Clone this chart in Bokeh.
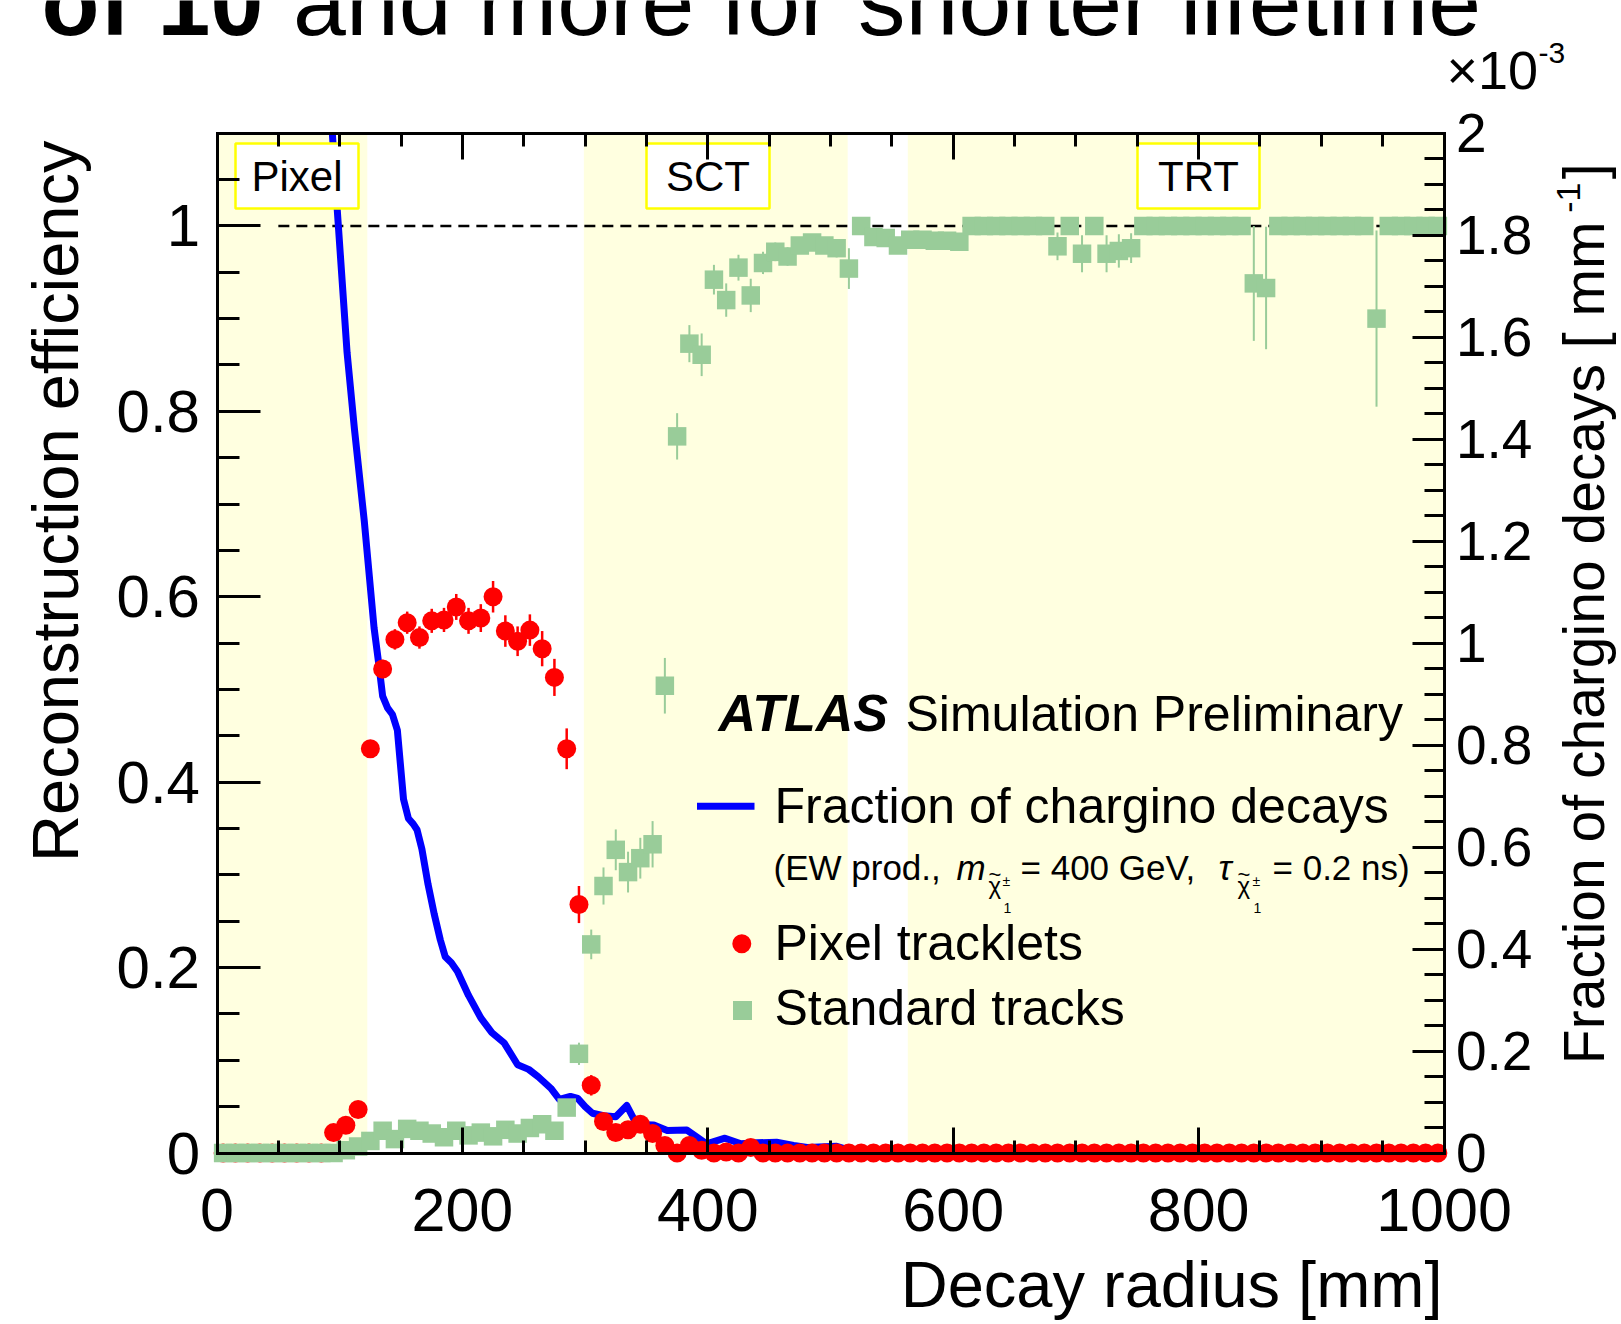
import math
from bokeh.plotting import figure
from bokeh.models import Range1d, LinearAxis, FixedTicker, Label
from bokeh.embed import file_html
from bokeh.resources import INLINE

# ---------------- data ----------------
radius_bins = list(range(5, 1000, 10))  # bin centres [mm]

pixel_eff = [
    0, 0, 0, 0, 0, 0, 0, 0, 0,
    0.022, 0.030, 0.047, 0.436, 0.522, 0.554, 0.572, 0.556, 0.574, 0.575,
    0.589, 0.574, 0.577, 0.600, 0.563, 0.552, 0.564, 0.544, 0.513, 0.436,
    0.268, 0.073, 0.034, 0.022, 0.025, 0.031, 0.021, 0.008, 0.0, 0.008,
    0.003, 0.0, 0.001, 0.0, 0.006,
    0, 0, 0, 0, 0, 0, 0, 0, 0, 0, 0, 0, 0, 0, 0, 0, 0, 0, 0, 0, 0, 0, 0, 0, 0, 0, 0, 0,
    0, 0, 0, 0, 0, 0, 0, 0, 0, 0, 0, 0, 0, 0, 0, 0, 0, 0, 0, 0, 0, 0, 0, 0, 0, 0, 0, 0,
]
pixel_err = [
    0, 0, 0, 0, 0, 0, 0, 0, 0,
    0.004, 0.005, 0.006, 0.008, 0.010, 0.011, 0.012, 0.012, 0.013, 0.013,
    0.014, 0.014, 0.015, 0.017, 0.017, 0.016, 0.017, 0.019, 0.020, 0.022,
    0.020, 0.011, 0.007, 0.006, 0.006, 0.006, 0.005, 0.004, 0.002, 0.003,
    0.002, 0.001, 0.001, 0.001, 0.003,
    0, 0, 0, 0, 0, 0, 0, 0, 0, 0, 0, 0, 0, 0, 0, 0, 0, 0, 0, 0, 0, 0, 0, 0, 0, 0, 0, 0,
    0, 0, 0, 0, 0, 0, 0, 0, 0, 0, 0, 0, 0, 0, 0, 0, 0, 0, 0, 0, 0, 0, 0, 0, 0, 0, 0, 0,
]

std_eff = [
    0, 0, 0, 0, 0, 0, 0, 0, 0, 0,
    0.003, 0.007, 0.013, 0.024, 0.015, 0.026, 0.024, 0.021, 0.017, 0.024,
    0.019, 0.022, 0.018, 0.025, 0.021, 0.027, 0.031, 0.024, 0.049, 0.107,
    0.225, 0.288, 0.327, 0.303, 0.318, 0.333, 0.504, 0.773, 0.873, 0.861,
    0.942, 0.920, 0.955, 0.925, 0.960, 0.972, 0.967, 0.979, 0.982, 0.979,
    0.976, 0.954, 1.0, 0.988, 0.987, 0.979, 0.985, 0.985, 0.984, 0.984,
    0.983, 1.0, 1.0, 1.0, 1.0, 1.0, 1.0, 1.0, 0.978, 1.0,
    0.970, 1.0, 0.970, 0.973, 0.976, 1.0, 1.0, 1.0, 1.0, 1.0,
    1.0, 1.0, 1.0, 1.0, 0.938, 0.933, 1.0, 1.0, 1.0, 1.0,
    1.0, 1.0, 1.0, 1.0, 0.900, 1.0, 1.0, 1.0, 1.0, 1.0,
]
std_err = [
    0, 0, 0, 0, 0, 0, 0, 0, 0, 0,
    0.002, 0.003, 0.004, 0.005, 0.004, 0.005, 0.005, 0.005, 0.004, 0.005,
    0.005, 0.005, 0.005, 0.005, 0.005, 0.006, 0.006, 0.006, 0.008, 0.012,
    0.016, 0.020, 0.022, 0.022, 0.022, 0.025, 0.030, 0.025, 0.020, 0.023,
    0.016, 0.018, 0.014, 0.018, 0.012, 0.010, 0.010, 0.009, 0.009, 0.009,
    0.010, 0.022, 0.0, 0.008, 0.008, 0.009, 0.008, 0.008, 0.008, 0.008,
    0.008, 0, 0, 0, 0, 0, 0, 0, 0.015, 0,
    0.020, 0, 0.020, 0.018, 0.016, 0, 0, 0, 0, 0,
    0, 0, 0, 0, 0.062, 0.066, 0, 0, 0, 0,
    0, 0, 0, 0, 0.095, 0, 0, 0, 0, 0,
]

# fraction of chargino decays [1e-3 / mm] vs decay radius [mm] (visible part)
decay_r = [94, 98, 106, 112, 120, 128, 132, 135,
           139, 143, 147, 152, 156, 160, 163, 167, 172, 177,
           182, 186, 191, 196, 205, 215, 224, 234, 245, 254,
           262, 272, 279, 288, 294, 300, 306, 315, 325, 334,
           342, 356, 367, 383, 390, 399, 414, 427, 440, 456,
           470, 481, 505, 516, 530, 600, 700, 800, 900, 1000]
decay_frac = [2.00, 1.85, 1.57, 1.42, 1.24, 1.03, 0.956, 0.896,
              0.873, 0.860, 0.829, 0.694, 0.656, 0.645, 0.634, 0.596, 0.527, 0.469,
              0.418, 0.385, 0.373, 0.356, 0.309, 0.265, 0.236, 0.216, 0.173, 0.164,
              0.149, 0.127, 0.105, 0.111, 0.107, 0.091, 0.078, 0.073, 0.071, 0.093,
              0.056, 0.055, 0.044, 0.045, 0.033, 0.018, 0.029, 0.018, 0.020, 0.021,
              0.015, 0.011, 0.013, 0.005, 0.002, 0, 0, 0, 0, 0]

# detector regions [mm]
region_names = ["Pixel", "SCT", "TRT"]
region_start = [0, 299, 563]
region_end = [122.5, 514, 1000]

unity_x = [50, 1000]
unity_y = [1.0, 1.0]

x_ticks = [0, 200, 400, 600, 800, 1000]
x_tick_labels = ["0", "200", "400", "600", "800", "1000"]
y_ticks = [0, 0.2, 0.4, 0.6, 0.8, 1.0]
y_tick_labels = ["0", "0.2", "0.4", "0.6", "0.8", "1"]
y2_ticks = [0, 0.2, 0.4, 0.6, 0.8, 1.0, 1.2, 1.4, 1.6, 1.8, 2.0]
y2_tick_labels = ["0", "0.2", "0.4", "0.6", "0.8", "1", "1.2", "1.4", "1.6", "1.8", "2"]

# ---------------- layout ----------------
W, H = 1620, 1323
XR = (0, 1000)          # plotted x interval [mm]
YR = (0, 1.1)           # left axis interval
Y2R = (0, 2.0)          # right axis interval [1e-3 / mm]
PX_L, PX_R, PX_T, PX_B = 216.5, 1443.5, 132.7, 1152.5   # plot box in page pixels
FONT = "Liberation Sans"
MID = 0.35              # baseline offset of a "middle"-anchored text, in em

sx = (PX_R - PX_L) / (XR[1] - XR[0])
sy = (PX_B - PX_T) / (YR[1] - YR[0])
sy2 = (PX_B - PX_T) / (Y2R[1] - Y2R[0])


def dx(rx):
    return XR[0] + (rx - PX_L) / sx


def dy(ry):
    return YR[0] + (PX_B - ry) / sy


p = figure(width=W, height=H, title=None,
           x_range=Range1d(dx(0), dx(W)), y_range=Range1d(dy(H), dy(0)),
           output_backend="svg", toolbar_location=None,
           x_axis_location=None, y_axis_location=None,
           min_border=0, min_border_left=0, min_border_right=0,
           min_border_top=0, min_border_bottom=0)
p.extra_y_ranges = {"right": Range1d(Y2R[0] - (H - PX_B) / sy2, Y2R[1] + PX_T / sy2)}
p.xgrid.visible = False
p.ygrid.visible = False
p.outline_line_color = None
p.background_fill_color = "white"
p.border_fill_color = "white"

x_minor = list(range(0, 1001, 50))
y_minor = [round(0.05 * i, 2) for i in range(23)]
y2_minor = [round(0.05 * i, 2) for i in range(41)]

bottom_axis = LinearAxis(fixed_location=YR[0], bounds=XR,
                         ticker=FixedTicker(ticks=x_ticks, minor_ticks=x_minor))
top_axis = LinearAxis(fixed_location=YR[1], bounds=XR,
                      ticker=FixedTicker(ticks=x_ticks, minor_ticks=x_minor))
left_axis = LinearAxis(fixed_location=XR[0], bounds=YR,
                       ticker=FixedTicker(ticks=y_ticks, minor_ticks=y_minor))
right_axis = LinearAxis(y_range_name="right", fixed_location=XR[1], bounds=Y2R,
                        ticker=FixedTicker(ticks=y2_ticks, minor_ticks=y2_minor))
p.add_layout(bottom_axis, "below")
p.add_layout(top_axis, "above")
p.add_layout(left_axis, "left")
p.add_layout(right_axis, "right")

for ax in [bottom_axis, top_axis, left_axis, right_axis]:
    ax.major_tick_out = 0
    ax.minor_tick_out = 0
    ax.axis_line_width = 3
    ax.axis_line_cap = "square"
    ax.major_tick_line_width = 3
    ax.minor_tick_line_width = 3
    ax.axis_line_color = "black"
    ax.major_tick_line_color = "black"
    ax.minor_tick_line_color = "black"
    ax.major_label_text_font = FONT
    ax.major_label_text_color = "black"

for ax in [bottom_axis, top_axis]:
    ax.major_tick_in = 26
    ax.minor_tick_in = 13
left_axis.major_tick_in = 43
left_axis.minor_tick_in = 22
right_axis.major_tick_in = 32
right_axis.minor_tick_in = 20

bottom_axis.major_label_overrides = dict(zip(x_ticks, x_tick_labels))
bottom_axis.major_label_text_font_size = "61px"
bottom_axis.major_label_standoff = 36
top_axis.major_label_text_font_size = "0px"
top_axis.major_label_text_color = None
left_axis.major_label_overrides = dict(zip(y_ticks, y_tick_labels))
left_axis.major_label_text_font_size = "60px"
left_axis.major_label_standoff = 17
right_axis.major_label_overrides = dict(zip(y2_ticks, y2_tick_labels))
right_axis.major_label_text_font_size = "55px"
right_axis.major_label_standoff = 12

# detector shading
p.quad(left=region_start, right=region_end, bottom=YR[0], top=YR[1],
       fill_color="#FFFFE0", line_color=None, level="underlay")

# unity line
p.line(unity_x, unity_y, line_color="black", line_width=2.5, line_dash="11 7")

# chargino decay fraction
p.line(decay_r, decay_frac, y_range_name="right", line_color="#0000FF",
       line_width=7, line_join="round")

# pixel tracklets
p.segment(x0=radius_bins, x1=radius_bins,
          y0=[v - e for v, e in zip(pixel_eff, pixel_err)],
          y1=[v + e for v, e in zip(pixel_eff, pixel_err)],
          line_color="#FF0000", line_width=2.5)
p.scatter(radius_bins, pixel_eff, marker="circle", size=19,
          fill_color="#FF0000", line_color=None)

# standard tracks
p.segment(x0=radius_bins, x1=radius_bins,
          y0=[v - e for v, e in zip(std_eff, std_err)],
          y1=[v + min(e, 1.0 - v) for v, e in zip(std_eff, std_err)],
          line_color="#99CC99", line_width=2)
p.scatter(radius_bins, std_eff, marker="square", size=18.5,
          fill_color="#99CC99", line_color=None)


def label(text, rx, ry, size, style="normal", align="left", angle=0.0):
    """Place a text whose baseline passes through page pixel (rx, ry)."""
    if angle == 0.0:
        ax_, ay_ = rx, ry - MID * size
    else:
        ax_, ay_ = rx - MID * size, ry
    p.add_layout(Label(x=dx(ax_), y=dy(ay_), text=text, text_font=FONT,
                       text_font_size=f"{size}px", text_font_style=style,
                       text_align=align, text_baseline="middle",
                       angle=angle, text_color="black"))


# detector labels
box_px = [(235, 358), (646, 769), (1137, 1259)]
p.quad(left=[dx(a) for a, b in box_px], right=[dx(b) for a, b in box_px],
       bottom=dy(208), top=dy(143), fill_color="white",
       line_color="#FFFF00", line_width=2.5)
for name, (a, b) in zip(region_names, box_px):
    label(name, (a + b) / 2, 191, 42, align="center")

# slide title (cut off at the top in the source)
label("of 10", 41, 35, 95, style="bold")
label("and more for shorter lifetime", 292.6, 35, 95)

# axis titles
label("Decay radius [mm]", 1442, 1307, 65, align="right")
label("Reconstruction efficiency", 78, 140, 65, align="right", angle=math.pi / 2)
label("Fraction of chargino decays [ mm", 1603, 221, 57, align="right", angle=math.pi / 2)
label("-1", 1580, 182, 34, align="right", angle=math.pi / 2)
label(" ]", 1603, 147, 57, align="right", angle=math.pi / 2)
label("\u00d710", 1446, 88, 54)
label("-3", 1538, 63, 30)

# ATLAS label
label("ATLAS", 718, 731, 52, style="bold italic")
label("Simulation Preliminary", 905, 731, 50)

# legend
p.line([dx(696.5), dx(754)], [dy(805.7), dy(805.7)], line_color="#0000FF", line_width=7)
label("Fraction of chargino decays", 774, 823, 50)
label("(EW prod.,", 773, 879, 35)
label("m", 956, 879, 35, style="italic")
label("~", 988, 882, 22)
label("\u03c7", 988, 893, 24)
label("\u00b1", 1002, 885, 14)
label("1", 1003, 912, 14)
label("= 400 GeV,", 1020, 879, 35)
label("\u03c4", 1218, 879, 35, style="italic")
label("~", 1237, 882, 22)
label("\u03c7", 1237, 893, 24)
label("\u00b1", 1252, 885, 14)
label("1", 1253, 912, 14)
label("= 0.2 ns)", 1272, 879, 35)

p.scatter([dx(741.3)], [dy(943.3)], marker="circle", size=19,
          fill_color="#FF0000", line_color=None)
label("Pixel tracklets", 774, 960, 50)
p.scatter([dx(742)], [dy(1010)], marker="square", size=19,
          fill_color="#99CC99", line_color=None)
label("Standard tracks", 774, 1025, 50)

open("out.html", "w").write(file_html(p, INLINE))
